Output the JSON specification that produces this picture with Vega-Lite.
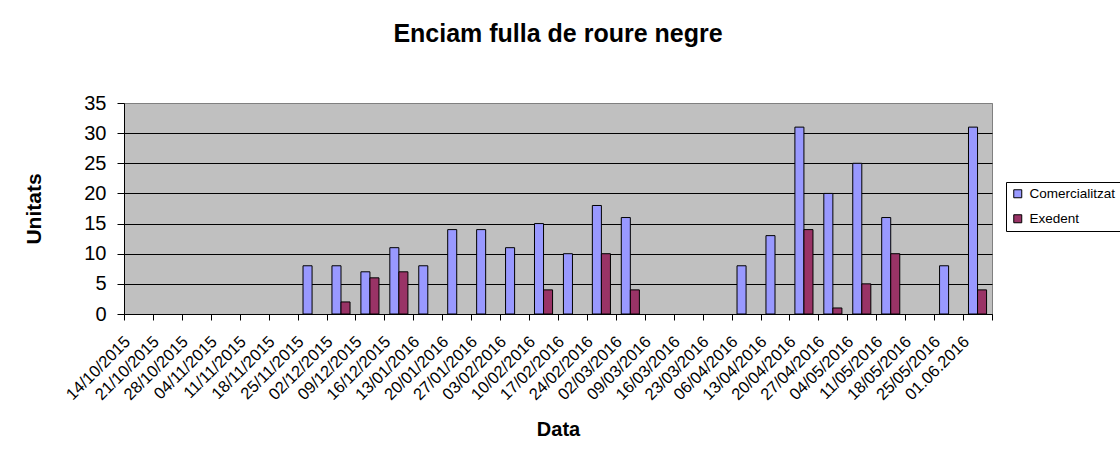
{
  "$schema": "https://vega.github.io/schema/vega-lite/v6.json",
  "width": 868,
  "height": 211,
  "autosize": {"type": "none"},
  "padding": {"left": 124, "top": 103, "right": 128, "bottom": 145},
  "background": "white",
  "title": {
    "text": "Enciam fulla de roure negre",
    "font": "Liberation Sans",
    "fontSize": 25,
    "fontWeight": "bold",
    "color": "black",
    "anchor": "middle",
    "frame": "group",
    "baseline": "alphabetic",
    "offset": 26
  },
  "config": {
    "font": "Liberation Sans",
    "view": {"fill": "#C0C0C0", "stroke": "#808080", "strokeWidth": 1}
  },
  "data": {
    "values": [
      {"date": "25/11/2015", "series": "Comercialitzat", "value": 8},
      {"date": "02/12/2015", "series": "Comercialitzat", "value": 8},
      {"date": "09/12/2015", "series": "Comercialitzat", "value": 7},
      {"date": "16/12/2015", "series": "Comercialitzat", "value": 11},
      {"date": "13/01/2016", "series": "Comercialitzat", "value": 8},
      {"date": "20/01/2016", "series": "Comercialitzat", "value": 14},
      {"date": "27/01/2016", "series": "Comercialitzat", "value": 14},
      {"date": "03/02/2016", "series": "Comercialitzat", "value": 11},
      {"date": "10/02/2016", "series": "Comercialitzat", "value": 15},
      {"date": "17/02/2016", "series": "Comercialitzat", "value": 10},
      {"date": "24/02/2016", "series": "Comercialitzat", "value": 18},
      {"date": "02/03/2016", "series": "Comercialitzat", "value": 16},
      {"date": "06/04/2016", "series": "Comercialitzat", "value": 8},
      {"date": "13/04/2016", "series": "Comercialitzat", "value": 13},
      {"date": "20/04/2016", "series": "Comercialitzat", "value": 31},
      {"date": "27/04/2016", "series": "Comercialitzat", "value": 20},
      {"date": "04/05/2016", "series": "Comercialitzat", "value": 25},
      {"date": "11/05/2016", "series": "Comercialitzat", "value": 16},
      {"date": "25/05/2016", "series": "Comercialitzat", "value": 8},
      {"date": "01.06.2016", "series": "Comercialitzat", "value": 31},
      {"date": "02/12/2015", "series": "Exedent", "value": 2},
      {"date": "09/12/2015", "series": "Exedent", "value": 6},
      {"date": "16/12/2015", "series": "Exedent", "value": 7},
      {"date": "10/02/2016", "series": "Exedent", "value": 4},
      {"date": "24/02/2016", "series": "Exedent", "value": 10},
      {"date": "02/03/2016", "series": "Exedent", "value": 4},
      {"date": "20/04/2016", "series": "Exedent", "value": 14},
      {"date": "27/04/2016", "series": "Exedent", "value": 1},
      {"date": "04/05/2016", "series": "Exedent", "value": 5},
      {"date": "11/05/2016", "series": "Exedent", "value": 10},
      {"date": "01.06.2016", "series": "Exedent", "value": 4}
    ]
  },
  "mark": {"type": "bar", "stroke": "black", "strokeWidth": 1},
  "encoding": {
    "x": {
      "field": "date",
      "type": "nominal",
      "scale": {
        "domain": ["14/10/2015", "21/10/2015", "28/10/2015", "04/11/2015", "11/11/2015", "18/11/2015", "25/11/2015", "02/12/2015", "09/12/2015", "16/12/2015", "13/01/2016", "20/01/2016", "27/01/2016", "03/02/2016", "10/02/2016", "17/02/2016", "24/02/2016", "02/03/2016", "09/03/2016", "16/03/2016", "23/03/2016", "06/04/2016", "13/04/2016", "20/04/2016", "27/04/2016", "04/05/2016", "11/05/2016", "18/05/2016", "25/05/2016", "01.06.2016"],
        "paddingInner": 0,
        "paddingOuter": 0
      },
      "axis": {
        "title": "Data",
        "titleFont": "Liberation Sans",
        "titleFontSize": 20,
        "titleFontWeight": "bold",
        "titleColor": "black",
        "titlePadding": 16,
        "labelAngle": -45,
        "labelFontSize": 16.5,
        "labelColor": "black",
        "labelPadding": 13,
        "labelOffset": -17,
        "labelOverlap": false,
        "tickBand": "extent",
        "tickColor": "black",
        "tickSize": 6,
        "domainColor": "black",
        "grid": false
      }
    },
    "xOffset": {
      "field": "series",
      "type": "nominal",
      "scale": {"domain": ["Comercialitzat", "Exedent"], "paddingInner": 0, "paddingOuter": 0.6}
    },
    "y": {
      "field": "value",
      "type": "quantitative",
      "scale": {"domain": [0, 35], "nice": false},
      "axis": {
        "title": "Unitats",
        "titleFont": "Liberation Sans",
        "titleFontSize": 21,
        "titleFontWeight": "bold",
        "titleColor": "black",
        "titlePadding": 39,
        "values": [0, 5, 10, 15, 20, 25, 30, 35],
        "labelFontSize": 20,
        "labelColor": "black",
        "labelPadding": 11,
        "tickColor": "black",
        "tickSize": 7,
        "domainColor": "black",
        "grid": true,
        "gridColor": {"condition": {"test": "datum.value == 35", "value": "#808080"}, "value": "black"},
        "gridOpacity": 1
      }
    },
    "color": {
      "field": "series",
      "type": "nominal",
      "scale": {"domain": ["Comercialitzat", "Exedent"], "range": ["#9999FF", "#993366"]},
      "legend": {
        "title": null,
        "orient": "none",
        "legendX": 882,
        "legendY": 79,
        "fillColor": "white",
        "strokeColor": "black",
        "padding": 5,
        "rowPadding": 10,
        "symbolType": "square",
        "symbolSize": 64,
        "symbolStrokeColor": "black",
        "symbolStrokeWidth": 1,
        "symbolOpacity": 1,
        "labelFontSize": 13.5,
        "labelColor": "black",
        "labelOffset": 5
      }
    }
  }
}
